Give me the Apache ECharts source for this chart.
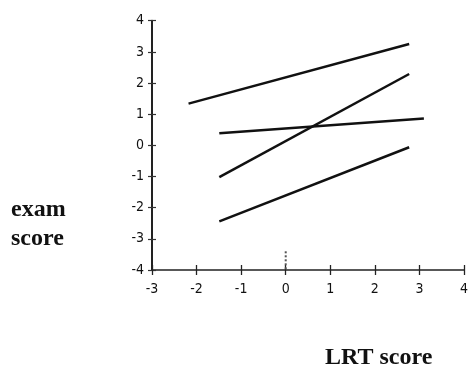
<!DOCTYPE html>
<html><head><meta charset="utf-8">
<script src="https://cdn.jsdelivr.net/npm/echarts@6/dist/echarts.min.js"></script>
<style>html,body{margin:0;padding:0;background:#fff}#c{width:471px;height:370px}</style>
</head><body><div id="c"></div>
<script>
// tick values
const xTicks = [-3, -2, -1, 0, 1, 2, 3, 4];
const yTicks = [-4, -3, -2, -1, 0, 1, 2, 3, 4];
// regression lines: [x, y] endpoints
const line1 = [[-2.18, 1.34], [2.77, 3.25]];
const line2 = [[-1.49, -1.02], [2.77, 2.29]];
const line3 = [[-1.49, 0.39], [3.10, 0.86]];
const line4 = [[-1.49, -2.44], [2.77, -0.06]];
// short dotted marker at x = 0
const zeroMark = [[0, -3.4], [0, -4]];
const xName = 'LRT score';
const yNameLines = ['exam', 'score'];

const chart = echarts.init(document.getElementById('c'), null, {renderer: 'canvas'});
const tickFont = {fontFamily: '"Liberation Sans Narrow","DejaVu Sans Condensed","Liberation Sans",sans-serif', fontSize: 14, color: '#111'};
const titleFont = 'bold 24px "Liberation Serif",serif';
const xMin = xTicks[0], xMax = xTicks[xTicks.length - 1];
const yMin = yTicks[0], yMax = yTicks[yTicks.length - 1];

function lineSeries(d) {
  return {type: 'line', data: d, symbol: 'none', xAxisIndex: 0, yAxisIndex: 0,
    lineStyle: {color: '#111', width: 2.5, cap: 'butt'}, animation: false};
}
chart.setOption({
  animation: false,
  grid: {left: 152, right: 2, top: 20.7, bottom: 100, containLabel: false},
  xAxis: [
    {type: 'value', min: xMin, max: xMax, interval: 1, position: 'bottom',
     axisLine: {show: true, onZero: false, lineStyle: {color: '#222', width: 1.5}},
     axisTick: {show: true, length: 5, lineStyle: {color: '#222', width: 1.3}},
     axisLabel: Object.assign({margin: 12}, tickFont),
     splitLine: {show: false}},
    {type: 'value', min: xMin, max: xMax, interval: 1, position: 'bottom',
     axisLine: {show: false, onZero: false},
     axisTick: {show: true, inside: true, length: 5, lineStyle: {color: '#222', width: 1.3}},
     axisLabel: {show: false}, splitLine: {show: false}}
  ],
  yAxis: [
    {type: 'value', min: yMin, max: yMax, interval: 1, position: 'left',
     axisLine: {show: true, onZero: false, lineStyle: {color: '#222', width: 2}},
     axisTick: {show: true, length: 4, lineStyle: {color: '#333', width: 1.2}},
     axisLabel: Object.assign({margin: 8}, tickFont),
     splitLine: {show: false}},
    {type: 'value', min: yMin, max: yMax, interval: 1, position: 'left',
     axisLine: {show: false, onZero: false},
     axisTick: {show: true, inside: true, length: 4, lineStyle: {color: '#333', width: 1.2}},
     axisLabel: {show: false}, splitLine: {show: false}}
  ],
  series: [
    lineSeries(line1), lineSeries(line2), lineSeries(line3), lineSeries(line4),
    {type: 'line', data: zeroMark, symbol: 'none',
     lineStyle: {color: '#555', width: 2, type: [2, 2]}}
  ],
  graphic: [
    {type: 'text', left: 11, top: 198, style: {text: yNameLines[0], font: titleFont, fill: '#111'}},
    {type: 'text', left: 11, top: 227, style: {text: yNameLines[1], font: titleFont, fill: '#111'}},
    {type: 'text', left: 325, top: 346, style: {text: xName, font: titleFont, fill: '#111'}}
  ]
});
</script></body></html>
